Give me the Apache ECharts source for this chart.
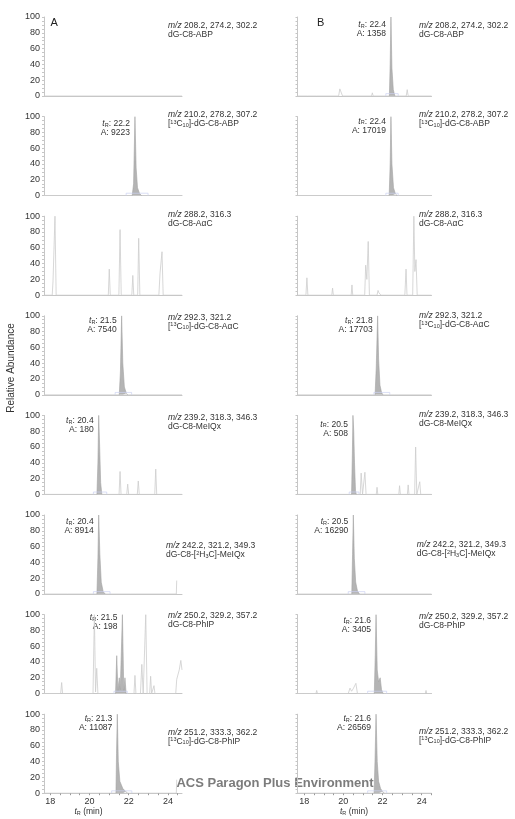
<!DOCTYPE html>
<html>
<head>
<meta charset="utf-8">
<script src="https://cdn.jsdelivr.net/npm/echarts@6/dist/echarts.min.js"></script>
<style>
  html, body { margin: 0; padding: 0; background: #fff; }
  #chart { width: 515px; height: 819px; }
</style>
</head>
<body>
<div id="chart"></div>
<script>
// axis ticks (retention time, min / relative abundance, %)
var xTickLabels = [18, 20, 22, 24];
var xTicks = [18, 18.5, 19, 19.5, 20, 20.5, 21, 21.5, 22, 22.5, 23, 23.5, 24, 24.5];

// ---- column A: traces [t, %] ----
var traceA1 = [[17.68, 0], [24.72, 0]];
var traceA2 = [[17.68, 0], [19.98, 0], [20.03, 1.5], [20.08, 0], [24.72, 0]];
var traceA3 = [[17.68, 0], [18.10, 0], [18.14, 18], [18.18, 16], [18.24, 100], [18.30, 0], [20.96, 0], [21.01, 33], [21.06, 0],
  [21.50, 0], [21.56, 83], [21.62, 0], [22.16, 0], [22.21, 25], [22.26, 0], [22.46, 0], [22.51, 72], [22.57, 0],
  [23.54, 0], [23.60, 28], [23.64, 26], [23.70, 55], [23.76, 0], [24.72, 0]];
var traceA4 = [[17.68, 0], [22.62, 0], [22.67, 2], [22.72, 0], [24.72, 0]];
var traceA5 = [[17.68, 0], [21.51, 0], [21.56, 29], [21.61, 0], [21.90, 0], [21.95, 13], [22.00, 0], [22.44, 0], [22.49, 17],
  [22.54, 0], [23.33, 0], [23.38, 32], [23.43, 0], [24.72, 0]];
var traceA6 = [[17.68, 0], [18.87, 0], [18.92, 1.5], [18.97, 0], [22.11, 0], [22.16, 1.5], [22.21, 0], [22.36, 0], [22.41, 1.5],
  [22.46, 0], [24.43, 0], [24.45, 17]];
var traceA7 = [[17.68, 0], [18.53, 0], [18.58, 14], [18.63, 0], [20.18, 0], [20.25, 100], [20.31, 2], [20.37, 32], [20.43, 0],
  [22.27, 0], [22.32, 23], [22.37, 0], [22.60, 0], [22.67, 37], [22.74, 0], [22.80, 0], [22.87, 100], [22.94, 0],
  [23.07, 0], [23.12, 22], [23.17, 0], [23.24, 0], [23.29, 10], [23.34, 0], [24.40, 0], [24.45, 18], [24.50, 20],
  [24.58, 30], [24.66, 42], [24.72, 30]];
var traceA8 = [[17.68, 0], [19.77, 0], [19.82, 1.5], [19.87, 0], [24.43, 0], [24.45, 17]];

// column A: integrated (filled) peaks and integration boxes
var peakA2 = [[22.18, 0], [22.25, 15], [22.32, 100], [22.38, 35], [22.45, 10], [22.55, 3], [22.65, 0]];
var peakA4 = [[21.52, 0], [21.58, 30], [21.64, 100], [21.70, 40], [21.78, 10], [21.88, 2], [21.95, 0]];
var peakA5 = [[20.38, 0], [20.43, 40], [20.47, 100], [20.52, 60], [20.57, 15], [20.63, 0]];
var peakA6 = [[20.38, 0], [20.43, 45], [20.47, 100], [20.53, 50], [20.60, 15], [20.70, 3], [20.80, 0]];
var peakA7 = [[21.33, 0], [21.39, 48], [21.45, 4], [21.52, 20], [21.57, 5], [21.68, 100], [21.75, 4], [21.81, 20], [21.87, 0]];
var peakA8 = [[21.35, 0], [21.38, 50], [21.42, 100], [21.47, 40], [21.55, 15], [21.70, 6], [21.85, 2], [21.95, 0]];
var boxA2 = [[21.87, 0], [21.87, 3], [22.99, 3], [22.99, 0]];
var boxA4 = [[21.31, 0], [21.31, 3], [22.15, 3], [22.15, 0]];
var boxA5 = [[20.20, 0], [20.20, 3], [20.88, 3], [20.88, 0]];
var boxA6 = [[20.20, 0], [20.20, 3], [21.05, 3], [21.05, 0]];
var boxA7 = [[21.25, 0], [21.25, 3], [21.93, 3], [21.93, 0]];
var boxA8 = [[21.13, 0], [21.13, 3], [22.16, 3], [22.16, 0]];

// ---- column B ----
var traceB1 = [[17.66, 0], [18.17, 0], [18.21, 2], [18.25, 0], [18.63, 0], [18.67, 2], [18.71, 0], [19.76, 0], [19.82, 9],
  [19.90, 7], [19.96, 0], [21.44, 0], [21.48, 4], [21.52, 0], [23.21, 0], [23.26, 8], [23.31, 0], [24.50, 0]];
var traceB2 = [[17.66, 0], [24.50, 0]];
var traceB3 = [[17.66, 0], [18.09, 0], [18.14, 22], [18.19, 0], [19.41, 0], [19.45, 9], [19.49, 0], [20.40, 0], [20.44, 13],
  [20.48, 0], [21.09, 0], [21.14, 38], [21.20, 20], [21.27, 68], [21.33, 0], [21.72, 0], [21.77, 6], [21.82, 3],
  [21.87, 5], [21.92, 0], [23.14, 0], [23.20, 33], [23.25, 0], [23.54, 0], [23.60, 100], [23.65, 30], [23.71, 45],
  [23.77, 0], [24.50, 0]];
var traceB4 = [[17.66, 0], [22.59, 0], [22.63, 2], [22.67, 0], [22.89, 0], [22.93, 2], [22.97, 0], [24.50, 0]];
var traceB5 = [[17.66, 0], [20.86, 0], [20.91, 27], [20.98, 0], [21.03, 0], [21.10, 28], [21.16, 0], [21.68, 0], [21.72, 9],
  [21.76, 0], [22.83, 0], [22.87, 11], [22.91, 0], [23.27, 0], [23.31, 12], [23.35, 0], [23.64, 0], [23.69, 60],
  [23.75, 0], [23.85, 0], [23.90, 16], [23.95, 0], [24.50, 0]];
var traceB6 = [[17.66, 0], [21.50, 0], [21.55, 1], [21.60, 0], [22.60, 0], [22.65, 1], [22.70, 0], [24.50, 0]];
var traceB7 = [[17.66, 0], [17.96, 0], [18.00, 2], [18.04, 0], [18.60, 0], [18.64, 4], [18.68, 0], [20.25, 0], [20.34, 7],
  [20.42, 3], [20.50, 6], [20.64, 13], [20.72, 0], [24.18, 0], [24.22, 4], [24.26, 0], [24.50, 0]];
var traceB8 = [[17.66, 0], [24.50, 0]];

var peakB1 = [[22.35, 0], [22.39, 40], [22.43, 100], [22.48, 35], [22.55, 8], [22.63, 0]];
var peakB2 = [[22.34, 0], [22.39, 40], [22.43, 100], [22.48, 40], [22.56, 10], [22.66, 2], [22.75, 0]];
var peakB4 = [[21.62, 0], [21.68, 35], [21.75, 100], [21.80, 45], [21.87, 12], [21.95, 3], [22.02, 0]];
var peakB5 = [[20.42, 0], [20.46, 50], [20.49, 100], [20.53, 80], [20.57, 40], [20.62, 5], [20.66, 0]];
var peakB6 = [[20.43, 0], [20.47, 50], [20.51, 100], [20.56, 45], [20.63, 15], [20.72, 4], [20.82, 0]];
var peakB7 = [[21.58, 0], [21.63, 50], [21.67, 100], [21.73, 30], [21.80, 15], [21.88, 20], [21.95, 5], [22.03, 0]];
var peakB8 = [[21.57, 0], [21.62, 45], [21.67, 100], [21.73, 40], [21.80, 15], [21.90, 6], [22.00, 2], [22.10, 0]];
var boxB1 = [[22.17, 0], [22.17, 3], [22.80, 3], [22.80, 0]];
var boxB2 = [[22.17, 0], [22.17, 3], [22.80, 3], [22.80, 0]];
var boxB4 = [[21.56, 0], [21.56, 3], [22.37, 3], [22.37, 0]];
var boxB5 = [[20.30, 0], [20.30, 3], [20.80, 3], [20.80, 0]];
var boxB6 = [[20.25, 0], [20.25, 3], [21.10, 3], [21.10, 0]];
var boxB7 = [[21.24, 0], [21.24, 3], [22.21, 3], [22.21, 0]];
var boxB8 = [[21.24, 0], [21.24, 3], [22.21, 3], [22.21, 0]];

// text of each row (same in both columns)
var ionLabels = ['208.2, 274.2, 302.2', '210.2, 278.2, 307.2', '288.2, 316.3', '292.3, 321.2',
  '239.2, 318.3, 346.3', '242.2, 321.2, 349.3', '250.2, 329.2, 357.2', '251.2, 333.3, 362.2'];
var compoundLabels = ['dG-C8-ABP', '[{sup|13}C{sub|10}]-dG-C8-ABP', 'dG-C8-AαC', '[{sup|13}C{sub|10}]-dG-C8-AαC',
  'dG-C8-MeIQx', 'dG-C8-[{sup|2}H{sub|3}C]-MeIQx', 'dG-C8-PhIP', '[{sup|13}C{sub|10}]-dG-C8-PhIP'];
var retTimesA = [null, '22.2', null, '21.5', '20.4', '20.4', '21.5', '21.3'];
var areasA = [null, 9223, null, 7540, 180, 8914, 198, 11087];
var retTimesB = ['22.4', '22.4', null, '21.8', '20.5', '20.5', '21.6', '21.6'];
var areasB = [1358, 17019, null, 17703, 508, 16290, 3405, 26569];

var tracesA = [traceA1, traceA2, traceA3, traceA4, traceA5, traceA6, traceA7, traceA8];
var peaksA = [null, peakA2, null, peakA4, peakA5, peakA6, peakA7, peakA8];
var boxesA = [null, boxA2, null, boxA4, boxA5, boxA6, boxA7, boxA8];
var tracesB = [traceB1, traceB2, traceB3, traceB4, traceB5, traceB6, traceB7, traceB8];
var peaksB = [peakB1, peakB2, null, peakB4, peakB5, peakB6, peakB7, peakB8];
var boxesB = [boxB1, boxB2, null, boxB4, boxB5, boxB6, boxB7, boxB8];

var FONT = '"Liberation Sans", Arial, sans-serif';
var AXIS_GRAY = '#c6c6c6';
var cols = [
  { left: 44, width: 138, min: 17.68, max: 24.72, textX: 168, textX6: 166,
    ionDy: [8.5, -2, -2, 1.5, 2, 31, 1.5, 18], peakDy: [0, 7, 0, 4.7, 5.7, 6.7, 3.3, 4.3],
    traces: tracesA, peaks: peaksA, boxes: boxesA, times: retTimesA, areas: areasA },
  { left: 297.5, width: 134, min: 17.66, max: 24.5, textX: 419, textX6: 416.7,
    ionDy: [8.5, -2, -2, 0, -1, 30, 1.7, 17], peakDy: [8, 4.7, 0, 4.7, 9, 6.7, 6, 4.3],
    traces: tracesB, peaks: peaksB, boxes: boxesB, times: retTimesB, areas: areasB }
];
function rowTop(r) { return 17 + r * 99.6; }

var richStyles = {
  i: { fontStyle: 'italic', fontSize: 8.5, fontFamily: FONT, fill: '#333', lineHeight: 9 },
  sub: { fontSize: 5.5, fontFamily: FONT, fill: '#333', verticalAlign: 'bottom', lineHeight: 6 },
  sup: { fontSize: 5.5, fontFamily: FONT, fill: '#333', verticalAlign: 'top', lineHeight: 6 }
};

var grids = [], xAxes = [], yAxes = [], series = [], graphics = [];
cols.forEach(function (c, ci) {
  for (var r = 0; r < 8; r++) {
    var k = ci * 8 + r;
    var last = r === 7;
    grids.push({ left: c.left, top: rowTop(r), width: c.width, height: 79 });
    xAxes.push({
      type: 'value', gridIndex: k, min: c.min, max: c.max,
      axisLine: { lineStyle: { color: AXIS_GRAY, width: 1 } },
      axisTick: { show: last, customValues: xTicks, length: 2, lineStyle: { color: '#999' } },
      axisLabel: { show: last, customValues: xTickLabels, fontSize: 9, color: '#333', margin: 4, fontFamily: FONT },
      splitLine: { show: false }
    });
    yAxes.push({
      type: 'value', gridIndex: k, min: 0, max: 100, interval: 20,
      axisLine: { show: true, lineStyle: { color: AXIS_GRAY, width: 1 } },
      axisTick: { show: true, length: 2, lineStyle: { color: AXIS_GRAY } },
      minorTick: { show: true, splitNumber: 4, length: 2, lineStyle: { color: AXIS_GRAY } },
      axisLabel: { show: ci === 0, fontSize: 9, color: '#333', margin: 4, fontFamily: FONT },
      splitLine: { show: false }
    });
    series.push({
      type: 'line', xAxisIndex: k, yAxisIndex: k, data: c.traces[r], symbol: 'none', silent: true,
      lineStyle: { color: '#cdcdcd', width: 0.8 }
    });
    if (c.peaks[r]) {
      series.push({
        type: 'line', xAxisIndex: k, yAxisIndex: k, data: c.peaks[r], symbol: 'none', silent: true,
        lineStyle: { color: '#a3a3a3', width: 0.6 },
        areaStyle: { color: '#b4b4b4', opacity: 1 }
      });
      series.push({
        type: 'line', xAxisIndex: k, yAxisIndex: k, data: c.boxes[r], symbol: 'none', silent: true,
        lineStyle: { color: '#cbd1f1', width: 0.7 }
      });
    }
    var top = rowTop(r);
    graphics.push({
      type: 'text', x: r === 5 ? c.textX6 : c.textX, y: top + c.ionDy[r] - 4.5,
      style: {
        text: '{i|m/z} ' + ionLabels[r] + '\n' + compoundLabels[r],
        fontSize: 8.5, fontFamily: FONT, fill: '#333', lineHeight: 9,
        align: 'left', verticalAlign: 'top', rich: richStyles
      }
    });
  }
});

graphics.push(
  { type: 'text', x: 50.5, y: 17.5, style: { text: 'A', fontSize: 11, fontFamily: FONT, fill: '#222', verticalAlign: 'top' } },
  { type: 'text', x: 317, y: 17.5, style: { text: 'B', fontSize: 11, fontFamily: FONT, fill: '#222', verticalAlign: 'top' } },
  { type: 'text', x: 11, y: 368, rotation: Math.PI / 2,
    style: { text: 'Relative Abundance', fontSize: 10, fontFamily: FONT, fill: '#333', align: 'center', verticalAlign: 'middle' } },
  { type: 'text', x: 88.5, y: 812,
    style: { text: '{i|t}{sub|R} (min)', fontSize: 8.5, fontFamily: FONT, fill: '#333', align: 'center', verticalAlign: 'middle', rich: richStyles } },
  { type: 'text', x: 354, y: 812,
    style: { text: '{i|t}{sub|R} (min)', fontSize: 8.5, fontFamily: FONT, fill: '#333', align: 'center', verticalAlign: 'middle', rich: richStyles } },
  { type: 'text', x: 275, y: 783,
    style: { text: 'ACS Paragon Plus Environment', fontSize: 13, fontWeight: 'bold', fontFamily: FONT, fill: '#7c7c7c', align: 'center', verticalAlign: 'middle' } }
);

var chart = echarts.init(document.getElementById('chart'), null, { renderer: 'canvas' });
chart.setOption({
  animation: false,
  backgroundColor: '#fff',
  grid: grids, xAxis: xAxes, yAxis: yAxes, series: series,
  graphic: graphics
});

// peak labels anchored to the apex of each integrated peak
var peakLabels = [];
cols.forEach(function (c, ci) {
  for (var r = 0; r < 8; r++) {
    if (!c.times[r]) continue;
    var apex = c.peaks[r].reduce(function (a, b) { return b[1] > a[1] ? b : a; });
    var px = chart.convertToPixel({ gridIndex: ci * 8 + r }, apex);
    peakLabels.push({
      type: 'text', x: px[0] - 5, y: rowTop(r) + c.peakDy[r] - 4.5,
      style: {
        text: '{i|t}{sub|R}: ' + c.times[r] + '\nA: ' + c.areas[r],
        fontSize: 8.5, fontFamily: FONT, fill: '#333', lineHeight: 9,
        align: 'right', verticalAlign: 'top', rich: richStyles
      }
    });
  }
});
chart.setOption({ graphic: graphics.concat(peakLabels) });
</script>
</body>
</html>
